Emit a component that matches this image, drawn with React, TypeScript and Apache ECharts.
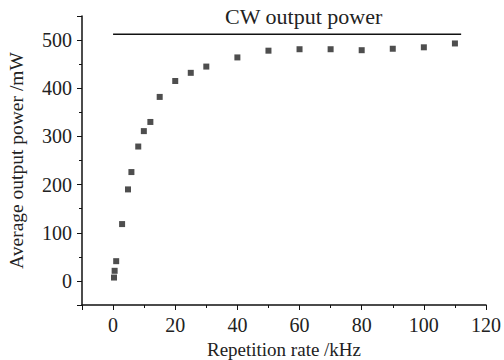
import React, { useEffect, useRef } from "react";
import * as echarts from "echarts";

const repRate = [0.3, 0.5, 1.0, 2.9, 4.8, 5.9, 8.1, 9.9, 12, 15, 20, 25, 30, 40, 50, 60, 70, 80, 90, 100, 110];
const avgPower = [7, 21, 41, 118, 190, 226, 279, 311, 330, 382, 415, 432, 445, 464, 478, 481, 481, 479, 482, 485, 493];
const cwPower = 512;
const cwRange = [0, 112];
const cwLabel = "CW output power";
const xTitle = "Repetition rate /kHz";
const yTitle = "Average output power /mW";

const FONT = "Liberation Serif";

export default function App() {
  const ref = useRef<HTMLDivElement>(null);
  useEffect(() => {
    if (!ref.current) return;
    const chart = echarts.init(ref.current, undefined, { renderer: "svg" });
    chart.setOption({
      animation: false,
      backgroundColor: "#fff",
      grid: { left: 82, right: 18, top: 16, bottom: 55, outerBoundsMode: "none", containLabel: false },
      xAxis: {
        type: "value",
        min: -10,
        max: 120,
        splitNumber: 6,
        name: xTitle,
        nameLocation: "middle",
        nameGap: 31,
        nameTextStyle: { fontFamily: FONT, fontSize: 19, color: "#222" },
        axisLine: { show: true, onZero: false, lineStyle: { color: "#111", width: 1.5 } },
        axisTick: { show: true, length: 5, lineStyle: { color: "#111" } },
        minorTick: { show: true, splitNumber: 2, length: 3, lineStyle: { color: "#111" } },
        splitLine: { show: false },
        axisLabel: {
          fontFamily: FONT,
          fontSize: 20,
          color: "#222",
          margin: 10,
          formatter: (v: number) => (v % 20 === 0 && v >= 0 ? String(v) : ""),
        },
      },
      yAxis: {
        type: "value",
        min: -50,
        max: 550,
        splitNumber: 6,
        name: yTitle,
        nameLocation: "middle",
        nameGap: 56,
        nameTextStyle: { fontFamily: FONT, fontSize: 19.5, color: "#222" },
        axisLine: { show: true, onZero: false, lineStyle: { color: "#111", width: 1.5 } },
        axisTick: { show: true, length: 5, lineStyle: { color: "#111" } },
        minorTick: { show: true, splitNumber: 2, length: 3, lineStyle: { color: "#111" } },
        splitLine: { show: false },
        axisLabel: {
          fontFamily: FONT,
          fontSize: 20,
          color: "#222",
          margin: 10,
          formatter: (v: number) => (v % 100 === 0 && v >= 0 && v <= 500 ? String(v) : ""),
        },
      },
      series: [
        {
          type: "line",
          data: [
            [cwRange[0], cwPower],
            [cwRange[1], cwPower],
          ],
          symbol: "none",
          lineStyle: { color: "#111", width: 1.5 },
        },
        {
          type: "scatter",
          data: repRate.map((x, i) => [x, avgPower[i]]),
          symbol: "rect",
          symbolSize: 6,
          itemStyle: { color: "#222" },
        },
      ],
      graphic: [
        {
          type: "text",
          left: 225,
          top: 5,
          style: { text: cwLabel, fontFamily: FONT, fontSize: 22, fill: "#222" },
        },
      ],
    });
    return () => chart.dispose();
  }, []);
  return (
    <div
      ref={ref}
      style={{ position: "absolute", left: 0, top: 0, width: 504, height: 360, overflow: "hidden" }}
    />
  );
}
